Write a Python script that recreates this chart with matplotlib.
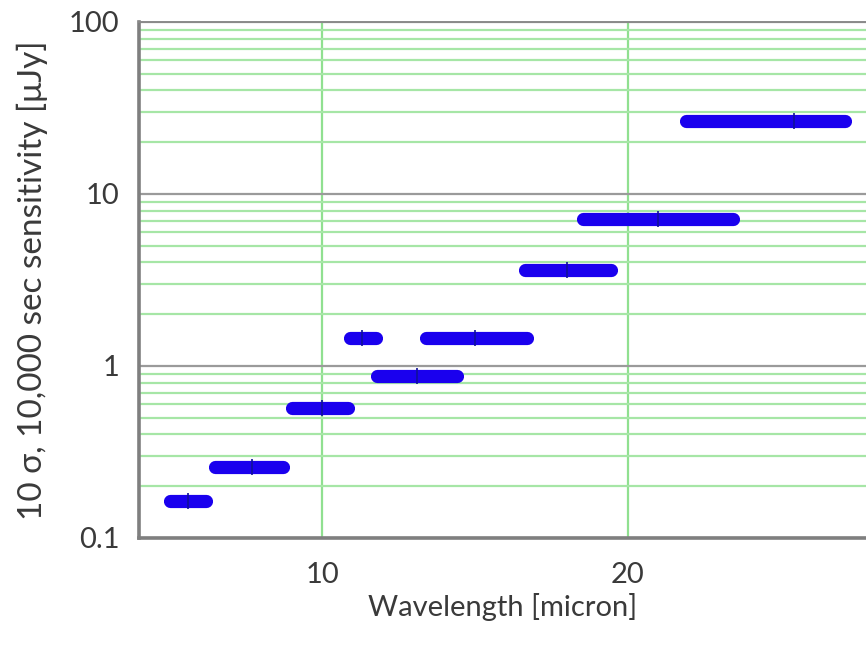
import matplotlib
matplotlib.use("Agg")
import matplotlib.pyplot as plt
from matplotlib.ticker import MultipleLocator, LogLocator, NullFormatter, FixedLocator, FixedFormatter

plt.rcParams['font.family'] = ['Lato', 'DejaVu Sans']

# Filter centres, band edges and 10-sigma sensitivities
wavelength = [5.6, 7.7, 10.0, 11.3, 13.1, 15.0, 18.0, 21.0, 25.45]
band_lo = [5.0, 6.5, 9.0, 10.9, 11.8, 13.4, 16.65, 18.55, 21.9]
band_hi = [6.2, 8.7, 10.85, 11.75, 14.4, 16.7, 19.45, 23.45, 27.1]
sensitivity = [0.163, 0.258, 0.567, 1.45, 0.88, 1.46, 3.63, 7.15, 26.5]

err_lo = [w - lo for w, lo in zip(wavelength, band_lo)]
err_hi = [hi - w for w, hi in zip(wavelength, band_hi)]

fig = plt.figure(figsize=(8.66, 6.54), dpi=100)
ax = fig.add_axes([0.1605, 0.1774, 0.8395, 0.789])

ax.set_yscale('log')
ax.set_ylim(0.1, 100)
ax.set_xlim(4, 27.8)

# grid: grey decades, green minor lines
ax.yaxis.set_major_locator(FixedLocator([0.1, 1, 10, 100]))
ax.yaxis.set_major_formatter(FixedFormatter(['0.1', '1', '10', '100']))
ax.yaxis.set_minor_locator(LogLocator(base=10, subs=range(2, 10)))
ax.yaxis.set_minor_formatter(NullFormatter())
ax.xaxis.set_major_locator(MultipleLocator(10))

ax.grid(which='major', axis='y', color='#9a9a9a', lw=1.6)
ax.grid(which='minor', axis='y', color='#a6e6a6', lw=1.6)
ax.grid(which='major', axis='x', color='#90e090', lw=1.6)
ax.set_axisbelow(True)

eb = ax.errorbar(wavelength, sensitivity, xerr=[err_lo, err_hi], fmt='|',
                 color='#1a00ee', ecolor='#1a00ee', elinewidth=9.5, capsize=0,
                 ms=11, mew=1.2, mec='#10109a', zorder=3)
eb.lines[2][0].set_capstyle('round')

for side in ['left', 'bottom']:
    ax.spines[side].set_color('#7f7f7f')
    ax.spines[side].set_linewidth(2.6)
ax.spines['top'].set_color('#8a8a8a')
ax.spines['top'].set_linewidth(1.4)
ax.spines['right'].set_visible(False)

ax.tick_params(which='both', length=0, labelsize=21, colors='#3a3a3a')
ax.tick_params(axis='x', pad=17)
ax.tick_params(axis='y', pad=14)

ax.set_xlabel('Wavelength [micron]', fontsize=21, color='#3a3a3a', labelpad=4)
ax.set_ylabel('10 σ, 10,000 sec sensitivity [μJy]', fontsize=24,
              color='#3a3a3a')
ax.yaxis.set_label_coords(-0.125, 0.5)

fig.savefig('out.png', dpi=100)
